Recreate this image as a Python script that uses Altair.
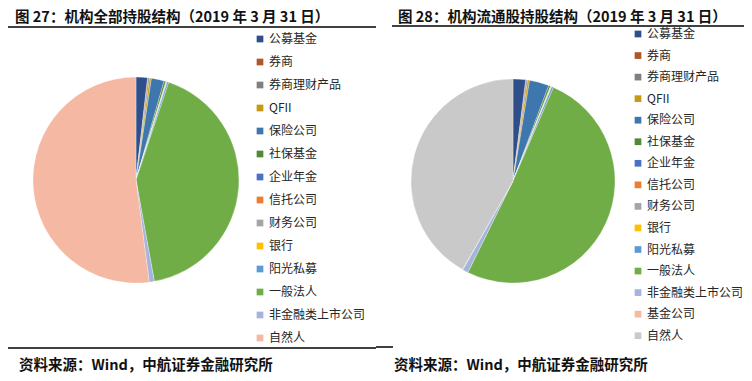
import altair as alt
import pandas as pd

# ---- data ----
cats_left = ["公募基金", "券商", "券商理财产品", "QFII", "保险公司", "社保基金", "企业年金",
             "信托公司", "财务公司", "银行", "阳光私募", "一般法人", "非金融类上市公司", "自然人"]
vals_left = [1.8, 0.1, 0.2, 0.3, 2.0, 0.3, 0.05, 0.05, 0.05, 0.05, 0.25, 42.0, 0.8, 52.05]

cats_right = ["公募基金", "券商", "券商理财产品", "QFII", "保险公司", "社保基金", "企业年金",
              "信托公司", "财务公司", "银行", "阳光私募", "一般法人", "非金融类上市公司", "基金公司", "自然人"]
vals_right = [2.0, 0.1, 0.2, 0.3, 3.1, 0.3, 0.05, 0.05, 0.05, 0.05, 0.3, 50.8, 0.9, 0.05, 41.75]

colors_left = ["#2F4F8A", "#B0572A", "#7F7F7F", "#C49A12", "#3E76AE", "#4F8A35", "#4A72C4",
               "#ED7D31", "#A5A5A5", "#FFC000", "#5B9BD5", "#70AD47", "#A4B4DB", "#F4B8A3"]
colors_right = colors_left[:13] + ["#F4B8A3", "#C9C9C9"]

title_left = "图 27：机构全部持股结构（2019 年 3 月 31 日）"
title_right = "图 28：机构流通股持股结构（2019 年 3 月 31 日）"
source_text = "资料来源：Wind，中航证券金融研究所"

df_left = pd.DataFrame({"cat": cats_left, "val": vals_left, "idx": range(len(cats_left))})
df_right = pd.DataFrame({"cat": cats_right, "val": vals_right, "idx": range(len(cats_right))})

FONT = "Noto Sans CJK SC"


def pie(df, cats, colors, cx, cy, r, lx, ly, rowpad):
    return alt.Chart(df).mark_arc(radius=r, stroke="white", strokeWidth=0.3).encode(
        theta=alt.Theta("val:Q", stack=True),
        order=alt.Order("idx:Q", sort="ascending"),
        color=alt.Color(
            "cat:N",
            scale=alt.Scale(domain=cats, range=colors),
            legend=alt.Legend(
                title=None, orient="none", legendX=lx, legendY=ly,
                symbolType="square", symbolSize=45, symbolStrokeWidth=0,
                labelFont=FONT, labelFontSize=12, labelColor="#262626",
                labelOffset=3, rowPadding=rowpad, padding=0, labelLimit=200,
            ),
        ),
        x=alt.value(cx),
        y=alt.value(cy),
    )


left_pie = pie(df_left, cats_left, colors_left, 128, 172, 103, 246, 25, 11)
right_pie = pie(df_right, cats_right, colors_right, 505, 173, 102, 624, 20, 9.55)

one = pd.DataFrame({"a": [0]})


def text(t, x, y, size, weight="bold"):
    return alt.Chart(one).mark_text(
        text=t, align="left", baseline="middle", font=FONT, fontSize=size,
        fontWeight=weight, color="#111111",
    ).encode(x=alt.value(x), y=alt.value(y))


def rule(x1, x2, y, w=1.5):
    return alt.Chart(one).mark_rule(color="#000000", strokeWidth=w).encode(
        x=alt.value(x1), x2=alt.value(x2), y=alt.value(y)
    )


chart = alt.layer(
    left_pie,
    right_pie,
    text(title_left, 7, 10, 14.5),
    text(title_right, 390, 10, 14.5),
    rule(0, 368, 19),
    rule(384, 736, 18),
    rule(0, 368, 340),
    rule(368, 385, 339),
    text(source_text, 11, 358, 14.5),
    text(source_text, 386, 358, 14.5),
).resolve_scale(
    color="independent", theta="independent"
).properties(
    width=736, height=365,
    autosize=alt.AutoSizeParams(type="none"),
    padding=0,
).configure_view(stroke=None)

chart.save("out.html", embed_options={"renderer": "svg", "actions": False})
